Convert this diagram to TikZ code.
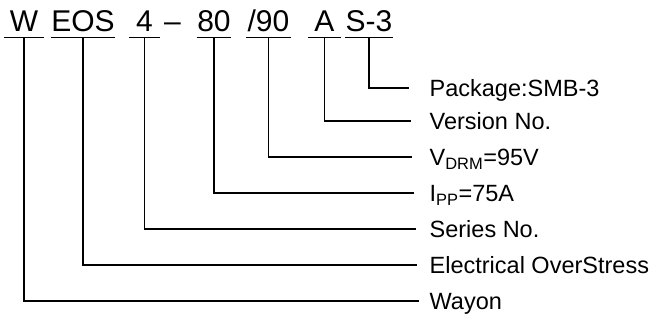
\documentclass[tikz,border=0pt]{standalone}
\usepackage{fontspec}
\setmainfont{Liberation Sans}
\begin{document}
\begin{tikzpicture}[x=1pt,y=-1pt,line width=1.3pt]
     \tikzstyle{part}=[anchor=base, inner sep=0pt, text height=21pt, text depth=5pt, font=\fontsize{30}{30}\selectfont]
     \tikzstyle{meaning}=[anchor=west, inner sep=0pt, text height=17pt, text depth=0pt, font=\fontsize{23.5}{23.5}\selectfont]
     \useasboundingbox (0,0) rectangle (654,320);
     % part number
     \node[part, minimum width=38pt] (w) at (24,32) {W};
     \node[part, minimum width=62pt] (eos) at (83,32) {EOS};
     \node[part, minimum width=29pt] (four) at (144.5,32) {4};
     \node[part] (dash) at (172.5,32) {\textendash};
     \node[part, minimum width=32pt] (eighty) at (214,32) {80};
     \node[part, minimum width=43pt] (ninety) at (268.5,32) {/90};
     \node[part, minimum width=31pt] (ver) at (324.5,32) {A};
     \node[part, minimum width=44pt] (pkg) at (369,32) {S-3};
     \foreach \p in {w,eos,four,eighty,ninety,ver,pkg}
       \draw (\p.south west) -- (\p.south east);
     % meanings
     \node[meaning] (lpkg) at (429,88) {Package:SMB-3};
     \node[meaning] (lver) at (429,121) {Version No.};
     \node[meaning] (lvdrm) at (429,157) {V\textsubscript{DRM}=95V};
     \node[meaning] (lipp) at (429,193) {I\textsubscript{PP}=75A};
     \node[meaning] (lser) at (429,229) {Series No.};
     \node[meaning] (leos) at (429,265) {Electrical OverStress};
     \node[meaning] (lway) at (429,301) {Wayon};
     \draw (pkg.south) |- ([xshift=-20pt]lpkg.west);
     \draw (ver.south) |- ([xshift=-18pt]lver.west);
     \draw (ninety.south) |- ([xshift=-17pt]lvdrm.west);
     \draw (eighty.south) |- ([xshift=-15pt]lipp.west);
     \draw (four.south) |- ([xshift=-13pt]lser.west);
     \draw (eos.south) |- ([xshift=-12pt]leos.west);
     \draw (w.south) |- ([xshift=-10pt]lway.west);
\end{tikzpicture}
\end{document}
